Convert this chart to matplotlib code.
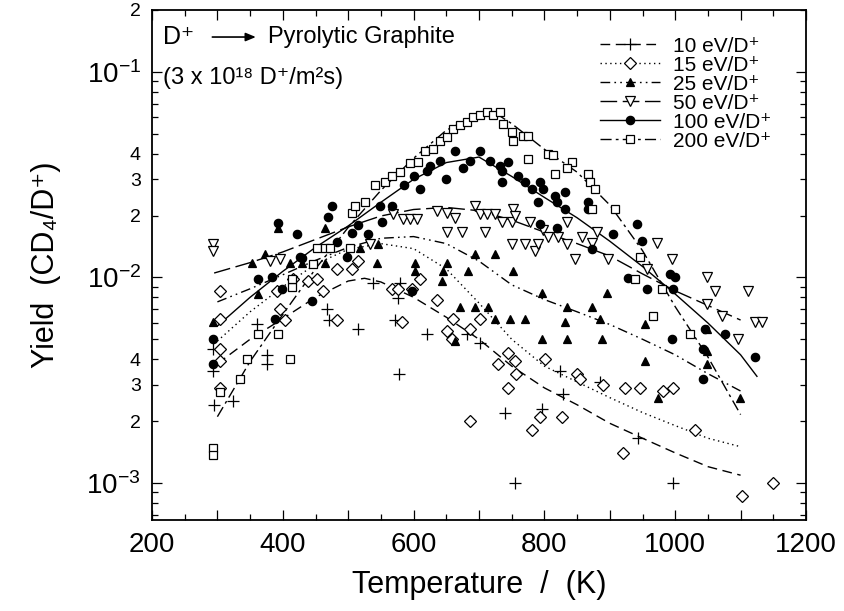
import numpy as np
import matplotlib
matplotlib.use('Agg')
import matplotlib.pyplot as plt
from matplotlib.ticker import FixedLocator, MultipleLocator, FuncFormatter
from matplotlib.lines import Line2D

plt.rcParams['font.family'] = ['Liberation Sans', 'DejaVu Sans']
plt.rcParams['mathtext.fontset'] = 'custom'
plt.rcParams['mathtext.rm'] = 'Liberation Sans'
plt.rcParams['mathtext.it'] = 'Liberation Sans'
plt.rcParams['mathtext.bf'] = 'Liberation Sans:bold'

# ---------------- data ----------------
labels = ['10 eV/D⁺', '15 eV/D⁺', '25 eV/D⁺', '50 eV/D⁺', '100 eV/D⁺', '200 eV/D⁺']

# measured points
t10 = [293, 293, 295, 324, 360, 376, 376, 468, 470, 515, 538, 572, 579, 576, 620, 682, 701, 740, 755,
       824, 829, 796, 885, 943, 997, 578]
y10 = [4.5e-3, 3.5e-3, 2.4e-3, 2.5e-3, 5.9e-3, 4.2e-3, 3.8e-3, 7.0e-3, 6.2e-3, 5.6e-3, 9.4e-3, 6.2e-3,
       9.4e-3, 7.9e-3, 5.3e-3, 5.3e-3, 4.8e-3, 2.2e-3, 1.0e-3, 3.5e-3, 2.7e-3, 2.3e-3, 3.1e-3, 1.65e-3,
       1.0e-3, 3.4e-3]

t15 = [304, 304, 304, 304, 304, 396, 403, 415, 391, 438, 453, 461, 483, 506, 515, 483, 567, 576, 597,
       610, 582, 636, 660, 651, 659, 686, 701, 744, 755, 729, 757, 744, 686, 801, 850, 855, 890, 923,
       946, 981, 997, 793, 827, 781, 920, 1030, 1102, 1150]
y15 = [8.6e-3, 6.3e-3, 4.5e-3, 3.9e-3, 2.9e-3, 7.0e-3, 6.2e-3, 9.8e-3, 8.6e-3, 9.6e-3, 9.8e-3, 8.6e-3,
       1.1e-2, 1.1e-2, 1.2e-2, 6.2e-3, 8.8e-3, 8.8e-3, 8.8e-3, 9.8e-3, 6.1e-3, 7.8e-3, 6.3e-3, 5.5e-3,
       5.0e-3, 5.6e-3, 6.3e-3, 4.3e-3, 3.9e-3, 3.8e-3, 3.4e-3, 2.9e-3, 2.0e-3, 4.0e-3, 3.4e-3, 3.2e-3,
       3.0e-3, 2.9e-3, 2.9e-3, 2.8e-3, 2.9e-3, 2.1e-3, 2.1e-3, 1.8e-3, 1.4e-3, 1.8e-3, 8.6e-4, 1.0e-3]

t25 = [293, 392, 373, 353, 411, 429, 465, 465, 518, 546, 544, 362, 602, 602, 651, 645, 643, 694, 724,
       683, 752, 671, 694, 714, 724, 747, 663, 796, 834, 873, 896, 770, 831, 885, 796, 834, 888, 954,
       1049, 1049, 954, 974, 1049, 1099]
y25 = [6.1e-3, 1.73e-2, 1.3e-2, 1.18e-2, 1.18e-2, 1.18e-2, 1.73e-2, 1.18e-2, 1.39e-2, 1.45e-2, 1.18e-2,
       8.3e-3, 1.18e-2, 1.07e-2, 1.18e-2, 1.07e-2, 9.6e-3, 1.3e-2, 1.3e-2, 1.07e-2, 1.07e-2, 7.2e-3,
       7.2e-3, 7.2e-3, 6.3e-3, 6.3e-3, 4.9e-3, 8.4e-3, 7.2e-3, 7.2e-3, 8.4e-3, 6.3e-3, 6.1e-3, 6.3e-3,
       5.0e-3, 5.0e-3, 5.0e-3, 5.9e-3, 5.6e-3, 4.4e-3, 3.9e-3, 2.6e-3, 3.8e-3, 2.6e-3]

t50 = [293, 293, 380, 396, 533, 569, 584, 595, 605, 636, 651, 651, 674, 663, 694, 701, 712, 724, 709,
       735, 750, 752, 750, 755, 778, 798, 805, 821, 834, 770, 786, 790, 834, 847, 857, 873, 880, 897,
       972, 995, 1049, 1061, 1111, 1072, 1096, 1122, 1133, 1049, 957]
y50 = [1.45e-2, 1.35e-2, 1.2e-2, 1.23e-2, 1.45e-2, 2.04e-2, 1.93e-2, 1.93e-2, 1.93e-2, 2.1e-2, 2.05e-2,
       1.67e-2, 1.67e-2, 1.95e-2, 2.22e-2, 2.03e-2, 2.03e-2, 2.03e-2, 1.67e-2, 1.85e-2, 1.85e-2, 2.14e-2,
       1.46e-2, 2.0e-2, 1.85e-2, 1.7e-2, 1.58e-2, 1.58e-2, 1.85e-2, 1.46e-2, 1.34e-2, 1.46e-2, 1.46e-2,
       1.23e-2, 1.58e-2, 1.47e-2, 1.67e-2, 1.23e-2, 1.47e-2, 1.23e-2, 1.0e-2, 8.6e-3, 8.6e-3, 6.5e-3,
       5.0e-3, 6.1e-3, 6.1e-3, 7.4e-3, 1.1e-2]

t100 = [293, 293, 392, 422, 362, 383, 399, 388, 445, 426, 430, 469, 475, 483, 506, 530, 498, 515, 549,
        567, 552, 597, 585, 600, 610, 620, 625, 640, 650, 663, 675, 686, 701, 717, 732, 744, 735, 735,
        760, 770, 781, 793, 798, 816, 819, 831, 831, 790, 793, 819, 867, 867, 873, 905, 942, 949, 928,
        957, 992, 1000, 997, 1046, 1076, 995, 1122, 1043, 1043]
y100 = [5.0e-3, 3.8e-3, 1.83e-2, 1.62e-2, 9.8e-3, 1.0e-2, 8.8e-3, 6.3e-3, 7.7e-3, 1.26e-2, 1.24e-2,
        1.97e-2, 2.22e-2, 1.48e-2, 1.64e-2, 1.63e-2, 1.26e-2, 1.8e-2, 2.22e-2, 2.22e-2, 1.87e-2, 8.6e-3,
        2.8e-2, 3.1e-2, 2.7e-2, 3.3e-2, 3.5e-2, 3.7e-2, 3.0e-2, 4.1e-2, 3.4e-2, 3.7e-2, 4.1e-2, 3.7e-2,
        3.5e-2, 3.66e-2, 3.3e-2, 2.9e-2, 3.1e-2, 2.9e-2, 2.7e-2, 2.9e-2, 2.7e-2, 2.5e-2, 2.34e-2, 2.6e-2,
        2.15e-2, 2.34e-2, 1.82e-2, 1.74e-2, 2.34e-2, 2.15e-2, 1.37e-2, 1.62e-2, 1.82e-2, 1.5e-2, 9.9e-3,
        8.8e-3, 1.04e-2, 1.0e-2, 8.8e-3, 5.6e-3, 5.3e-3, 5.0e-3, 4.1e-3, 4.5e-3, 3.2e-3]

t200 = [293, 293, 304, 335, 345, 362, 392, 411, 414, 414, 446, 452, 465, 472, 503, 506, 510, 526, 541,
        556, 567, 579, 594, 607, 617, 630, 640, 651, 660, 671, 682, 691, 701, 712, 721, 732, 737, 750,
        752, 767, 775, 775, 805, 813, 842, 835, 816, 867, 870, 877, 873, 908, 939, 946, 980, 966, 1023]
y200 = [1.48e-3, 1.36e-3, 2.78e-3, 3.2e-3, 4.0e-3, 5.3e-3, 5.3e-3, 4.0e-3, 9.0e-3, 9.8e-3, 1.16e-2,
        1.39e-2, 1.39e-2, 1.39e-2, 1.39e-2, 2.05e-2, 2.22e-2, 2.34e-2, 2.8e-2, 2.9e-2, 3.1e-2, 3.27e-2,
        3.6e-2, 3.66e-2, 4.1e-2, 4.2e-2, 4.6e-2, 4.8e-2, 5.3e-2, 5.5e-2, 5.7e-2, 6.0e-2, 6.2e-2, 6.4e-2,
        6.2e-2, 6.4e-2, 5.6e-2, 5.1e-2, 4.6e-2, 4.9e-2, 4.9e-2, 3.77e-2, 4.0e-2, 3.95e-2, 3.66e-2, 3.4e-2,
        3.2e-2, 3.2e-2, 2.9e-2, 2.7e-2, 2.15e-2, 2.15e-2, 9.8e-3, 1.26e-2, 8.8e-3, 6.5e-3, 5.3e-3]

# fitted curves
ft10 = [300, 350, 400, 450, 500, 525, 550, 600, 650, 700, 750, 800, 850, 900, 950, 1000, 1050, 1100]
fy10 = [3.8e-3, 5.0e-3, 6.3e-3, 8.0e-3, 9.6e-3, 9.9e-3, 9.5e-3, 8.0e-3, 6.4e-3, 5.0e-3, 3.7e-3, 2.9e-3,
        2.4e-3, 1.95e-3, 1.65e-3, 1.4e-3, 1.2e-3, 1.09e-3]
ft15 = [300, 350, 400, 450, 500, 550, 600, 650, 700, 750, 800, 850, 900, 950, 1000, 1050, 1100]
fy15 = [4.9e-3, 6.8e-3, 9.0e-3, 1.16e-2, 1.37e-2, 1.46e-2, 1.38e-2, 1.1e-2, 7.5e-3, 5.0e-3, 3.7e-3,
        3.1e-3, 2.6e-3, 2.2e-3, 1.9e-3, 1.65e-3, 1.5e-3]
ft25 = [300, 350, 400, 450, 500, 550, 600, 650, 700, 750, 800, 850, 900, 950, 1000, 1050, 1100]
fy25 = [7.6e-3, 8.8e-3, 1.03e-2, 1.21e-2, 1.4e-2, 1.55e-2, 1.58e-2, 1.46e-2, 1.2e-2, 9.2e-3, 7.8e-3,
        6.8e-3, 5.9e-3, 5.0e-3, 4.2e-3, 3.4e-3, 2.8e-3]
ft50 = [295, 350, 400, 450, 500, 550, 600, 650, 700, 750, 800, 850, 900, 950, 1000, 1050, 1100]
fy50 = [1.05e-2, 1.18e-2, 1.33e-2, 1.53e-2, 1.76e-2, 1.99e-2, 2.14e-2, 2.19e-2, 2.11e-2, 1.9e-2,
        1.66e-2, 1.46e-2, 1.27e-2, 1.04e-2, 8.6e-3, 7.3e-3, 6.2e-3]
ft100 = [300, 350, 400, 450, 500, 550, 600, 650, 700, 750, 800, 850, 900, 950, 1000, 1050, 1100, 1125]
fy100 = [5.8e-3, 8.0e-3, 1.07e-2, 1.4e-2, 1.78e-2, 2.32e-2, 3.0e-2, 3.62e-2, 3.85e-2, 3.1e-2, 2.45e-2,
         1.95e-2, 1.5e-2, 1.13e-2, 8.3e-3, 6.0e-3, 4.2e-3, 3.3e-3]
ft200 = [300, 350, 400, 450, 500, 550, 600, 650, 700, 725, 750, 800, 850, 900, 950, 1000, 1050, 1100]
fy200 = [2.1e-3, 3.9e-3, 6.6e-3, 1.1e-2, 1.75e-2, 2.65e-2, 3.8e-2, 5.2e-2, 6.25e-2, 6.3e-2, 5.6e-2,
         4.2e-2, 3.25e-2, 2.25e-2, 1.35e-2, 7.2e-3, 4.1e-3, 2.15e-3]

points = [(t10, y10), (t15, y15), (t25, y25), (t50, y50), (t100, y100), (t200, y200)]
fits = [(ft10, fy10), (ft15, fy15), (ft25, fy25), (ft50, fy50), (ft100, fy100), (ft200, fy200)]

# ---------------- styles ----------------
markers = ['+', 'D', '^', 'v', 'o', 's']
mfcs = ['k', 'white', 'k', 'white', 'k', 'white']
msizes = [8, 6.5, 6, 6.5, 6, 6]
dashes = [(0, (7, 4)), (0, (1, 2.5)), (0, (7, 3, 1.2, 3, 1.2, 3)), (0, (12, 4)), '-', (0, (8, 3, 2, 3))]

fig = plt.figure(figsize=(8.44, 6.11), dpi=100)
ax = fig.add_axes([152 / 844, 91 / 611, 654 / 844, 510 / 611])

for (ft, fy), ls in zip(fits, dashes):
    ax.plot(ft, fy, color='k', lw=1.0, ls=ls, zorder=2)
for (t, y), m, fc, ms in zip(points, markers, mfcs, msizes):
    ax.plot(t, y, ls='none', marker=m, mfc=fc, mec='k', mew=0.9, ms=ms, zorder=3)

ax.set_yscale('log')
ax.set_xlim(200, 1200)
ax.set_ylim(6.6e-4, 0.2)

# x ticks
ax.xaxis.set_major_locator(MultipleLocator(100))
ax.xaxis.set_minor_locator(MultipleLocator(50))
ax.xaxis.set_major_formatter(FuncFormatter(lambda v, p: ('%d' % v) if int(round(v)) % 200 == 0 else ''))

# y ticks
ax.yaxis.set_major_locator(FixedLocator([1e-3, 1e-2, 1e-1]))
ax.yaxis.set_major_formatter(FuncFormatter(lambda v, p: r'$\mathregular{10^{%d}}$' % int(round(np.log10(v)))))
minors = [m * 10.0 ** e for e in (-4, -3, -2, -1) for m in range(2, 10)]
ax.yaxis.set_minor_locator(FixedLocator(minors))


def minor_fmt(v, p):
    e = np.floor(np.log10(v) + 1e-9)
    m = int(round(v / 10 ** e))
    if m in (2, 3, 4) and v < 0.15:
        return str(m)
    if abs(v - 0.2) < 1e-6:
        return '2'
    return ''


ax.yaxis.set_minor_formatter(FuncFormatter(minor_fmt))

ax.tick_params(which='both', direction='in', top=True, right=True, width=0.9)
ax.tick_params(which='major', length=7)
ax.tick_params(which='minor', length=4)
ax.tick_params(axis='x', which='major', labelsize=20, pad=9)
ax.tick_params(axis='y', which='major', labelsize=20, pad=8)
ax.tick_params(axis='y', which='minor', labelsize=14, pad=8)
for sp in ax.spines.values():
    sp.set_linewidth(1.3)

ax.set_xlabel('Temperature  /  (K)', fontsize=22, labelpad=8)
ax.set_ylabel('Yield  (CD₄/D⁺)', fontsize=22, labelpad=18)

# title annotations
ax.text(0.017, 0.947, 'D⁺', transform=ax.transAxes, fontsize=18, va='center', ha='left')
ax.annotate('', xy=(0.163, 0.947), xytext=(0.088, 0.947), xycoords='axes fraction',
            arrowprops=dict(arrowstyle='-|>,head_length=0.6,head_width=0.25', color='k', lw=1.2))
ax.text(0.177, 0.947, 'Pyrolytic Graphite', transform=ax.transAxes, fontsize=17, va='center', ha='left')
ax.text(0.017, 0.867, '(3 x 10¹⁸ D⁺/m²s)', transform=ax.transAxes, fontsize=17,
        va='center', ha='left')

# legend
handles = [Line2D([], [], color='k', lw=1.0, ls=ls, marker=m, mfc=fc, mec='k', mew=0.9, ms=ms)
           for ls, m, fc, ms in zip(dashes, markers, mfcs, msizes)]
ax.legend(handles, labels, loc='upper left', bbox_to_anchor=(0.685, 0.948), frameon=False,
          fontsize=15, handlelength=2.9, handletextpad=0.6, labelspacing=0.0, borderpad=0,
          borderaxespad=0)

fig.savefig('out.png', dpi=100)
